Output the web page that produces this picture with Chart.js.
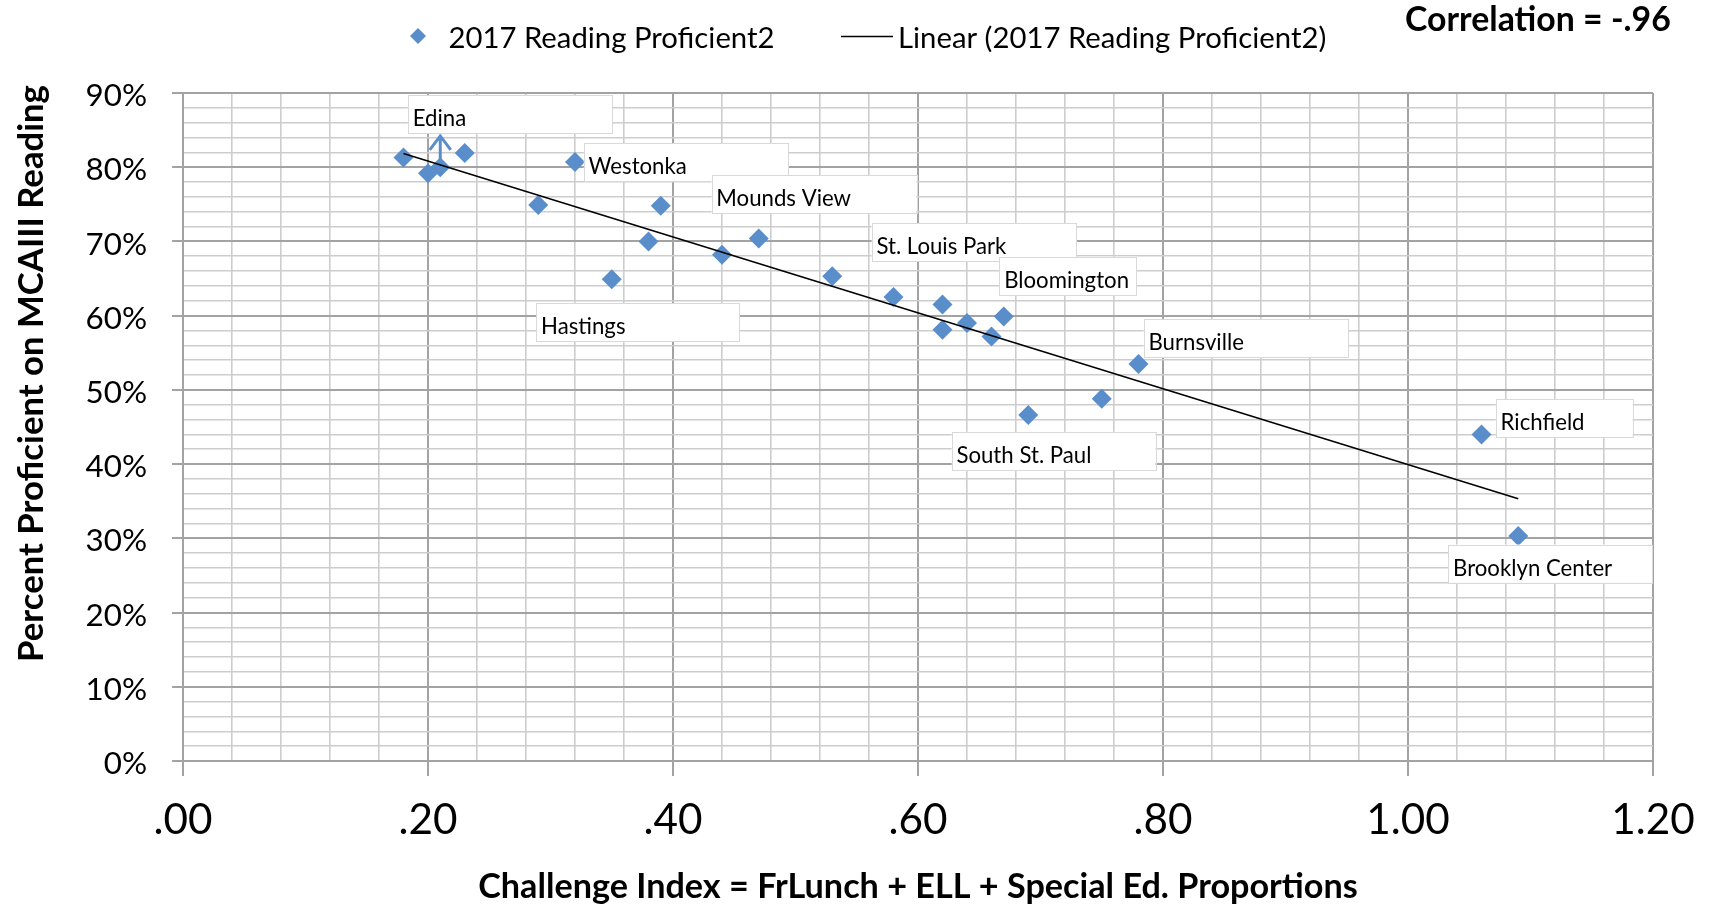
<!DOCTYPE html>
<html>
<head>
<meta charset="utf-8">
<script src="https://cdn.jsdelivr.net/npm/chart.js@4.4.1/dist/chart.umd.min.js"></script>
<style>
html,body{margin:0;padding:0;background:#ffffff;overflow:hidden}
#wrap{width:1711px;height:906px;position:relative}
canvas{display:block}
</style>
</head>
<body>
<div id="wrap"><canvas id="c" width="1711" height="906"></canvas></div>
<script>
// ---------------- DATA ----------------
const challengeIndex = [0.18, 0.20, 0.21, 0.23, 0.29, 0.32, 0.35, 0.38, 0.39, 0.44, 0.47, 0.53,
                        0.58, 0.62, 0.62, 0.64, 0.66, 0.67, 0.69, 0.75, 0.78, 1.06, 1.09];
const readingProficient = [81.3, 79.2, 80.0, 81.9, 74.9, 80.7, 64.9, 70.0, 74.8, 68.2, 70.4, 65.3,
                           62.5, 61.5, 58.1, 59.0, 57.2, 59.9, 46.6, 48.8, 53.5, 44.0, 30.3];
const districtLabels = ['', '', 'Edina', '', '', 'Westonka', 'Hastings', '', '', '', 'Mounds View', '',
                        'St. Louis Park', '', '', '', '', 'Bloomington', 'South St. Paul', '', 'Burnsville',
                        'Richfield', 'Brooklyn Center'];
const xTickLabels = ['.00', '.20', '.40', '.60', '.80', '1.00', '1.20'];
const yTickLabels = ['0%', '10%', '20%', '30%', '40%', '50%', '60%', '70%', '80%', '90%'];
const seriesName = '2017 Reading Proficient2';
const trendName = 'Linear (2017 Reading Proficient2)';
const correlationText = 'Correlation = -.96';
const xAxisTitle = 'Challenge Index = FrLunch + ELL + Special Ed. Proportions';
const yAxisTitle = 'Percent Proficient on MCAIII Reading';

// ---------------- STYLE / LAYOUT ----------------
const FAMILY = 'Lato';
const MARKER = '#5a8ecb';
const MAJOR = '#a3a3a3';
const MINOR = '#cdcdcd';
const X_MAJOR = 0.2, X_MINOR = 0.04, Y_MAJOR = 10, Y_MINOR = 2;

// label box layout relative to the point pixel (dx, dy of box top-left, width)
const labelLayout = {
  'Edina':           {dx: -32.4, dy: -72.2, w: 204.4},
  'Westonka':        {dx: 8.8,   dy: -18.7, w: 204.4},
  'Hastings':        {dx: -75.5, dy: 24.1,  w: 203},
  'Mounds View':     {dx: -47.2, dy: -63.4, w: 204.8},
  'St. Louis Park':  {dx: -21.9, dy: -73.7, w: 204.4},
  'Bloomington':     {dx: -4.4,  dy: -59.6, w: 137.4},
  'Burnsville':      {dx: 5.2,   dy: -44.8, w: 204.4},
  'South St. Paul':  {dx: -76.6, dy: 16.7,  w: 203.9},
  'Richfield':       {dx: 14.3,  dy: -35.0, w: 136.8},
  'Brooklyn Center': {dx: -70.0, dy: 8.4,   w: 203.8}
};
const BOX_H = 38.4;

const mctx = document.createElement('canvas').getContext('2d');
function fitSize(text, weight, target) {
  mctx.font = weight + ' 100px ' + FAMILY;
  return 100 * target / mctx.measureText(text).width;
}
const ySizeTick = fitSize('90%', 'normal', 61.5);
const xSizeTick = fitSize('.20', 'normal', 59);
const ySizeTitle = fitSize(yAxisTitle, 'bold', 577);
const xSizeTitle = fitSize(xAxisTitle, 'bold', 880);
const legSize = (fitSize(seriesName, 'normal', 324) + fitSize(trendName, 'normal', 431)) / 2;
const corrSize = fitSize(correlationText, 'bold', 266);
const lblSize = (fitSize('Brooklyn Center', 'normal', 158) + fitSize('South St. Paul', 'normal', 135) +
                 fitSize('St. Louis Park', 'normal', 128.6) + fitSize('Bloomington', 'normal', 127.4)) / 4;

// ---------------- TREND (least squares from the data) ----------------
const n = challengeIndex.length;
const mx = challengeIndex.reduce((a, b) => a + b, 0) / n;
const my = readingProficient.reduce((a, b) => a + b, 0) / n;
let sxy = 0, sxx = 0;
for (let i = 0; i < n; i++) {
  sxy += (challengeIndex[i] - mx) * (readingProficient[i] - my);
  sxx += (challengeIndex[i] - mx) ** 2;
}
const slope = sxy / sxx, intercept = my - slope * mx;
const xMin = Math.min(...challengeIndex), xMax = Math.max(...challengeIndex);
const trendPoints = [{x: xMin, y: intercept + slope * xMin}, {x: xMax, y: intercept + slope * xMax}];

const points = challengeIndex.map((x, i) => ({x: x, y: readingProficient[i]}));

const isMajorX = v => Math.abs(v / X_MAJOR - Math.round(v / X_MAJOR)) < 1e-6;
const isMajorY = v => Math.abs(v / Y_MAJOR - Math.round(v / Y_MAJOR)) < 1e-6;

function drawCapText(ctx, text, x, capCy, size, weight, align) {
  ctx.font = weight + ' ' + size + 'px ' + FAMILY;
  ctx.textAlign = align;
  ctx.textBaseline = 'alphabetic';
  const capH = ctx.measureText('H').actualBoundingBoxAscent;
  ctx.fillText(text, x, capCy + capH / 2);
}

const decor = {
  id: 'decor',
  afterDatasetsDraw(chart) {
    const ctx = chart.ctx;
    const xs = chart.scales.x, ys = chart.scales.y;
    ctx.save();
    // Edina leader arrow
    const ei = districtLabels.indexOf('Edina');
    if (ei >= 0) {
      const px = xs.getPixelForValue(challengeIndex[ei]);
      const py = ys.getPixelForValue(readingProficient[ei]);
      const L = labelLayout['Edina'];
      const tipY = py + L.dy + BOX_H + 2.5;
      ctx.strokeStyle = MARKER;
      ctx.lineWidth = 3;
      ctx.lineCap = 'butt';
      ctx.beginPath();
      ctx.moveTo(px, py - 8);
      ctx.lineTo(px, tipY);
      ctx.moveTo(px - 10.5, tipY + 14);
      ctx.lineTo(px, tipY);
      ctx.lineTo(px + 10.5, tipY + 14);
      ctx.stroke();
    }
    // data label boxes
    districtLabels.forEach((name, i) => {
      if (!name) return;
      const L = labelLayout[name];
      const px = xs.getPixelForValue(challengeIndex[i]);
      const py = ys.getPixelForValue(readingProficient[i]);
      const bx = px + L.dx, by = py + L.dy;
      ctx.fillStyle = '#ffffff';
      ctx.fillRect(bx, by, L.w, BOX_H);
      ctx.strokeStyle = '#d9d9d9';
      ctx.lineWidth = 1;
      ctx.strokeRect(Math.round(bx) + 0.5, Math.round(by) + 0.5, Math.round(L.w), Math.round(BOX_H));
      ctx.fillStyle = '#000000';
      drawCapText(ctx, name, bx + 4.8, by + 22.5, lblSize, 'normal', 'left');
    });
    ctx.restore();
  },
  afterDraw(chart) {
    const ctx = chart.ctx;
    ctx.save();
    // legend
    ctx.fillStyle = MARKER;
    ctx.beginPath();
    const lx = 418, ly = 36, r = 8;
    ctx.moveTo(lx - r, ly); ctx.lineTo(lx, ly - r); ctx.lineTo(lx + r, ly); ctx.lineTo(lx, ly + r);
    ctx.closePath(); ctx.fill();
    ctx.fillStyle = '#000000';
    drawCapText(ctx, seriesName, 448.5, 37.6, legSize, 'normal', 'left');
    ctx.strokeStyle = '#000000';
    ctx.lineWidth = 1.5;
    ctx.beginPath(); ctx.moveTo(841, 36.5); ctx.lineTo(893, 36.5); ctx.stroke();
    drawCapText(ctx, trendName, 898, 37.6, legSize, 'normal', 'left');
    // correlation
    drawCapText(ctx, correlationText, 1405, 18.7, corrSize, 'bold', 'left');
    // axis titles
    drawCapText(ctx, xAxisTitle, (chart.chartArea.left + chart.chartArea.right) / 2, 885, xSizeTitle, 'bold', 'center');
    ctx.translate(30, 373.5);
    ctx.rotate(-Math.PI / 2);
    drawCapText(ctx, yAxisTitle, 0, 0, ySizeTitle, 'bold', 'center');
    ctx.restore();
  }
};

new Chart(document.getElementById('c'), {
  type: 'scatter',
  data: {
    datasets: [
      {
        label: trendName,
        data: trendPoints,
        showLine: true,
        borderColor: '#000000',
        borderWidth: 1.6,
        pointRadius: 0,
        pointHoverRadius: 0,
        order: 0
      },
      {
        label: seriesName,
        data: points,
        pointStyle: 'rectRot',
        pointRadius: 10,
        pointHoverRadius: 10,
        backgroundColor: MARKER,
        borderWidth: 0,
        order: 1
      }
    ]
  },
  options: {
    responsive: false,
    animation: false,
    devicePixelRatio: 1,
    layout: {padding: {left: 0, right: 58, top: 93, bottom: 0}},
    plugins: {legend: {display: false}, tooltip: {enabled: false}},
    scales: {
      x: {
        type: 'linear',
        min: 0, max: 1.2,
        afterFit(s) { s.height = 145; s.paddingLeft = 0; s.paddingRight = 0; },
        ticks: {
          stepSize: X_MINOR,
          autoSkip: false,
          maxRotation: 0,
          padding: 19,
          color: '#000000',
          font: {family: FAMILY, size: xSizeTick},
          callback: v => isMajorX(v) ? xTickLabels[Math.round(v / X_MAJOR)] : ''
        },
        grid: {
          color: c => (c.tick && isMajorX(c.tick.value)) ? MAJOR : MINOR,
          lineWidth: c => (c.tick && isMajorX(c.tick.value)) ? 2 : 1.6,
          tickColor: c => (c.tick && isMajorX(c.tick.value)) ? MAJOR : 'rgba(0,0,0,0)',
          tickLength: 15,
          drawTicks: true
        },
        border: {display: true, color: MAJOR, width: 2}
      },
      y: {
        type: 'linear',
        min: 0, max: 90,
        afterFit(s) { s.width = 183; s.paddingTop = 0; s.paddingBottom = 0; },
        ticks: {
          stepSize: Y_MINOR,
          autoSkip: false,
          padding: 25,
          labelOffset: 3,
          color: '#000000',
          font: {family: FAMILY, size: ySizeTick},
          callback: v => isMajorY(v) ? yTickLabels[Math.round(v / Y_MAJOR)] : ''
        },
        grid: {
          color: c => (c.tick && isMajorY(c.tick.value)) ? MAJOR : MINOR,
          lineWidth: c => (c.tick && isMajorY(c.tick.value)) ? 2 : 1.6,
          tickColor: c => (c.tick && isMajorY(c.tick.value)) ? MAJOR : 'rgba(0,0,0,0)',
          tickLength: 11,
          drawTicks: true
        },
        border: {display: true, color: MAJOR, width: 2}
      }
    }
  },
  plugins: [decor]
});
</script>
</body>
</html>
